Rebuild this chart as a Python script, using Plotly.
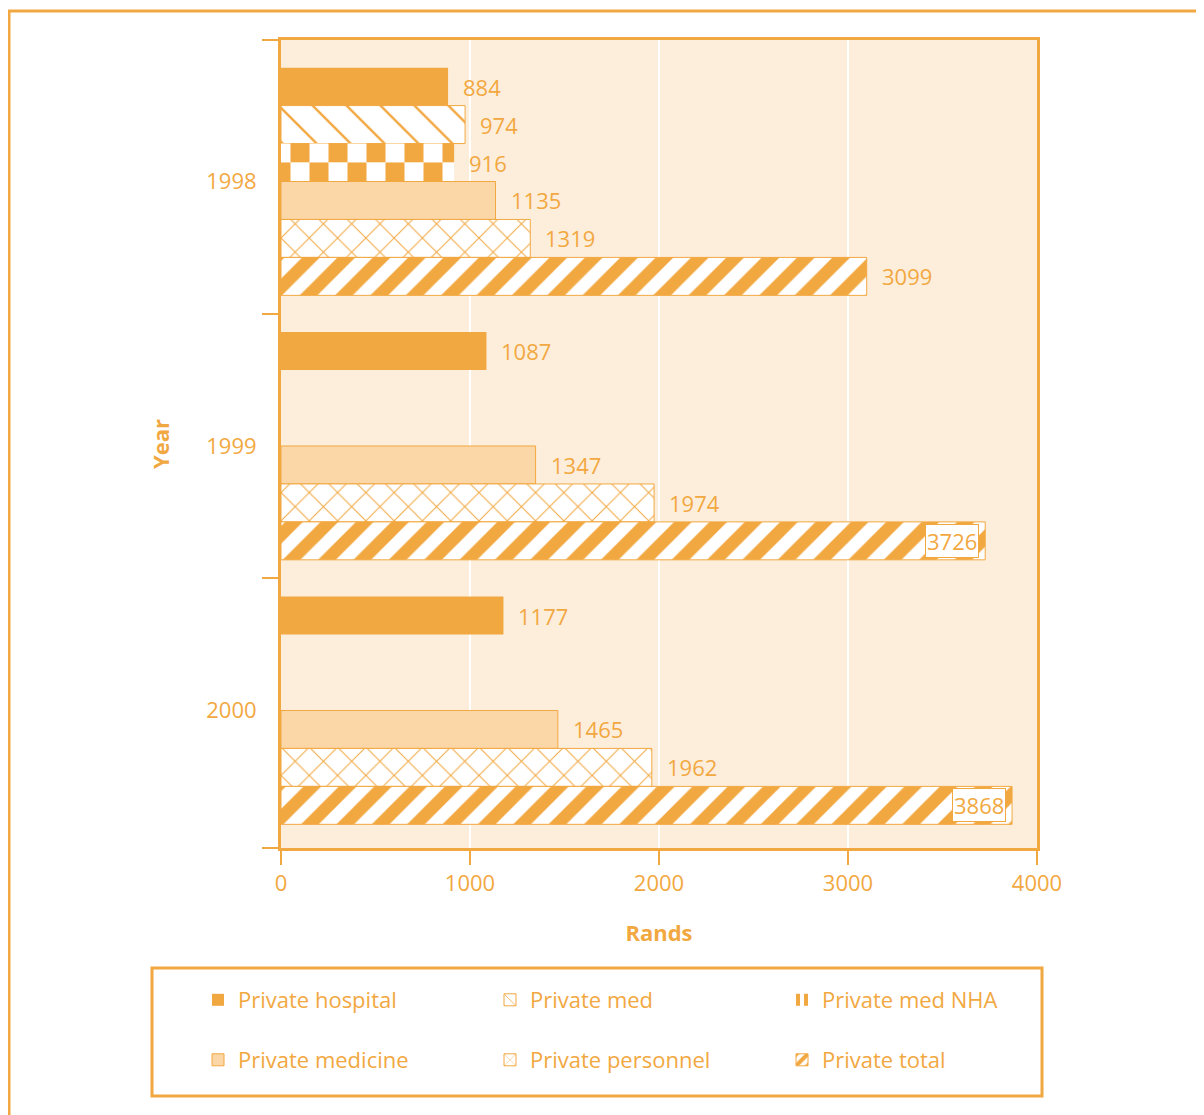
import plotly.graph_objects as go

# ---------------- data ----------------
years = ["1998", "1999", "2000"]
series_names = ["Private hospital", "Private med", "Private med NHA",
                "Private medicine", "Private personnel", "Private total"]
private_hospital = [884, 1087, 1177]
private_med = [974, None, None]
private_med_nha = [916, None, None]
private_medicine = [1135, 1347, 1465]
private_personnel = [1319, 1974, 1962]
private_total = [3099, 3726, 3868]
x_tick_values = [0, 1000, 2000, 3000, 4000]

# ---------------- style ----------------
ORANGE = "#F2A841"
LIGHT = "#FBD6A6"
BG = "#FDEEDC"
FONT = "Open Sans"
FS = 22

OFF = 8  # default page margin of the html body
W, H = 1204 - OFF, 1115 - OFF
PLOT_L, PLOT_R, PLOT_T, PLOT_B = 281 - OFF, 1037 - OFF, 40 - OFF, 848 - OFF
ML, MR, MT, MB = PLOT_L, W - PLOT_R, PLOT_T, H - PLOT_B
PW, PH = PLOT_R - PLOT_L, PLOT_B - PLOT_T


def px_x(px):
    """page pixel -> paper x"""
    return (px - OFF - PLOT_L) / PW


def px_y(py):
    """page pixel -> paper y"""
    return (PLOT_B - (py - OFF)) / PH


# y axis: one position per year
y_pos = list(range(len(years)))
Y_RANGE = [len(years) - 1 + 0.52, -0.535]          # reversed, 1998 on top
y_boundaries = [Y_RANGE[1]] + [p + 0.5 for p in y_pos[:-1]] + [Y_RANGE[0]]

BW = 0.1435          # slot height in y units
N_SLOTS = 6


def slot_offset(i):
    return -N_SLOTS / 2 * BW + i * BW


fig = go.Figure()

series = [private_hospital, private_med, private_med_nha,
          private_medicine, private_personnel, private_total]

styles = {
    0: dict(color=ORANGE, line=dict(width=0)),
    1: dict(color="white", line=dict(color=ORANGE, width=1),
            pattern=dict(shape="\\", fgcolor=ORANGE, bgcolor="white", fgopacity=1,
                         size=24, solidity=0.1)),
    3: dict(color=LIGHT, line=dict(color=ORANGE, width=1)),
    4: dict(color="white", line=dict(color=ORANGE, width=1),
            pattern=dict(shape="x", fgcolor=ORANGE, bgcolor="white", fgopacity=1,
                         size=20, solidity=0.1)),
    5: dict(color="white", line=dict(color=ORANGE, width=1),
            pattern=dict(shape="/", fgcolor=ORANGE, bgcolor="white", fgopacity=1,
                         size=25, solidity=0.5)),
}

for i, (name, vals) in enumerate(zip(series_names, series)):
    legend = "legend" if i < 3 else "legend2"
    if i == 2:
        # checkerboard: two half-height rows with swapped stripe colours
        for half, (fg, bgc) in enumerate([(ORANGE, "white"), ("white", ORANGE)]):
            fig.add_trace(go.Bar(
                y=y_pos, x=vals, orientation="h", name=name,
                width=BW / 2, offset=slot_offset(i) + half * BW / 2,
                marker=dict(color=bgc, line=dict(width=0),
                            pattern=dict(shape="|", fgcolor=fg, bgcolor=bgc,
                                         fgopacity=1, size=38, solidity=0.5)),
                legend=legend, showlegend=(half == 0), hoverinfo="x+name",
            ))
    else:
        fig.add_trace(go.Bar(
            y=y_pos, x=vals, orientation="h", name=name,
            width=BW, offset=slot_offset(i),
            marker=styles[i], legend=legend, hoverinfo="x+name",
        ))

# value labels
annotations = []
for i, vals in enumerate(series):
    for j, v in enumerate(vals):
        if v is None:
            continue
        yc = y_pos[j] + slot_offset(i) + BW / 2
        if v > 3500:
            annotations.append(dict(
                x=v, y=yc, xref="x", yref="y", text=str(v), showarrow=False,
                xanchor="right", yanchor="middle", xshift=-6,
                font=dict(family=FONT, size=FS, color=ORANGE),
                bgcolor="white", bordercolor=ORANGE, borderwidth=1, borderpad=1,
            ))
        else:
            annotations.append(dict(
                x=v, y=yc, xref="x", yref="y", text=str(v), showarrow=False,
                xanchor="left", yanchor="middle", xshift=13,
                font=dict(family=FONT, size=FS, color=ORANGE),
            ))

shapes = [
    # outer frame
    dict(type="rect", xref="paper", yref="paper",
         x0=px_x(9), x1=px_x(1220), y0=px_y(1130), y1=px_y(11),
         line=dict(color=ORANGE, width=3), layer="below"),
    # legend frame
    dict(type="rect", xref="paper", yref="paper",
         x0=px_x(152), x1=px_x(1042), y0=px_y(1096), y1=px_y(968),
         line=dict(color=ORANGE, width=3)),
]

legend_common = dict(
    orientation="h", xanchor="left", yanchor="middle",
    x=px_x(198), font=dict(family=FONT, size=FS, color=ORANGE),
    bgcolor="rgba(0,0,0,0)", borderwidth=0,
    entrywidth=247, entrywidthmode="pixels", traceorder="normal",
)

fig.update_layout(
    width=W, height=H,
    margin=dict(l=ML, r=MR, t=MT, b=MB, pad=0),
    paper_bgcolor="white", plot_bgcolor=BG,
    barmode="overlay",
    font=dict(family=FONT, size=FS, color=ORANGE),
    xaxis=dict(
        range=[0, 4000], tickvals=x_tick_values, ticktext=[str(t) for t in x_tick_values],
        showgrid=True, gridcolor="white", gridwidth=2, zeroline=False,
        showline=True, linecolor=ORANGE, linewidth=3, mirror=True,
        ticks="outside", ticklen=14, tickwidth=2, tickcolor=ORANGE,
        tickfont=dict(family=FONT, size=FS, color=ORANGE),
        title=dict(text="<b>Rands</b>", standoff=30,
                   font=dict(family=FONT, size=FS, color=ORANGE)),
    ),
    yaxis=dict(
        type="linear", range=Y_RANGE,
        tickvals=y_pos, ticktext=years, ticks="",
        minor=dict(tickvals=y_boundaries, ticks="outside", ticklen=16,
                   tickwidth=2, tickcolor=ORANGE, showgrid=False),
        showgrid=False, zeroline=False,
        showline=True, linecolor=ORANGE, linewidth=3, mirror=True,
        ticklabelstandoff=17,
        tickfont=dict(family=FONT, size=FS, color=ORANGE),
        title=dict(text="<b>Year</b>", standoff=31,
                   font=dict(family=FONT, size=FS, color=ORANGE)),
    ),
    legend=dict(y=px_y(1000), **legend_common),
    legend2=dict(y=px_y(1060), **legend_common),
    annotations=annotations,
    shapes=shapes,
)

fig.write_html("out.html")
